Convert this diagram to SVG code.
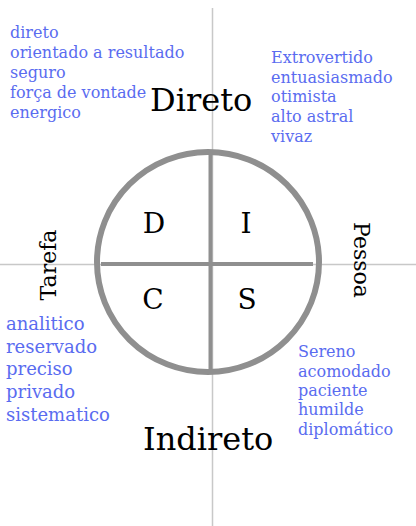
<svg xmlns="http://www.w3.org/2000/svg" width="416" height="526" viewBox="0 0 416 526">
<style>
.axis{stroke:#c8c8c8;stroke-width:1.5;fill:none}
.ring{stroke:#8f8f8f;stroke-width:6;fill:none}
.cross{stroke:#8f8f8f;stroke-width:4;fill:none}
.trait{font-family:"DejaVu Serif",serif;fill:#5a6cf0}
.big{font-family:"DejaVu Serif",serif;fill:#000;font-size:32px}
.letter{font-family:"DejaVu Serif",serif;fill:#000;font-size:28px;text-anchor:middle}
.side{font-family:"DejaVu Serif",serif;fill:#000;font-size:22px;text-anchor:middle}
</style>
<rect width="416" height="526" fill="#fff"/>
<g id="connectors">
<line class="axis" x1="212.5" y1="8" x2="212.5" y2="526"/>
<line class="axis" x1="0" y1="264.5" x2="416" y2="264.5"/>
<ellipse class="ring" cx="208" cy="262" rx="111" ry="110"/>
<line class="cross" x1="210.5" y1="154" x2="210.5" y2="370"/>
<line class="cross" x1="101" y1="264" x2="313" y2="264"/>
</g>
<g id="node-D"><text class="letter" x="154" y="233">D</text></g>
<g id="node-I"><text class="letter" x="246" y="233">I</text></g>
<g id="node-C"><text class="letter" x="153" y="309">C</text></g>
<g id="node-S"><text class="letter" x="247" y="309">S</text></g>
<g id="label-direto"><text class="big" x="150" y="111">Direto</text></g>
<g id="label-indireto"><text class="big" x="143" y="450">Indireto</text></g>
<g id="label-tarefa"><text class="side" transform="translate(56,265) rotate(-90)">Tarefa</text></g>
<g id="label-pessoa"><text class="side" transform="translate(354,260) rotate(90)">Pessoa</text></g>
<g id="traits-D"><text class="trait" font-size="16">
<tspan x="10" y="38">direto</tspan>
<tspan x="10" y="58">orientado a resultado</tspan>
<tspan x="10" y="78">seguro</tspan>
<tspan x="10" y="98">força de vontade</tspan>
<tspan x="10" y="118">energico</tspan>
</text></g>
<g id="traits-I"><text class="trait" font-size="16">
<tspan x="271" y="63">Extrovertido</tspan>
<tspan x="271" y="83">entuasiasmado</tspan>
<tspan x="271" y="102">otimista</tspan>
<tspan x="271" y="122">alto astral</tspan>
<tspan x="271" y="142">vivaz</tspan>
</text></g>
<g id="traits-C"><text class="trait" font-size="18">
<tspan x="6" y="330">analitico</tspan>
<tspan x="6" y="353">reservado</tspan>
<tspan x="6" y="375">preciso</tspan>
<tspan x="6" y="398">privado</tspan>
<tspan x="6" y="421">sistematico</tspan>
</text></g>
<g id="traits-S"><text class="trait" font-size="16">
<tspan x="298" y="357">Sereno</tspan>
<tspan x="298" y="377">acomodado</tspan>
<tspan x="298" y="396">paciente</tspan>
<tspan x="298" y="415">humilde</tspan>
<tspan x="298" y="435">diplomático</tspan>
</text></g>
</svg>
